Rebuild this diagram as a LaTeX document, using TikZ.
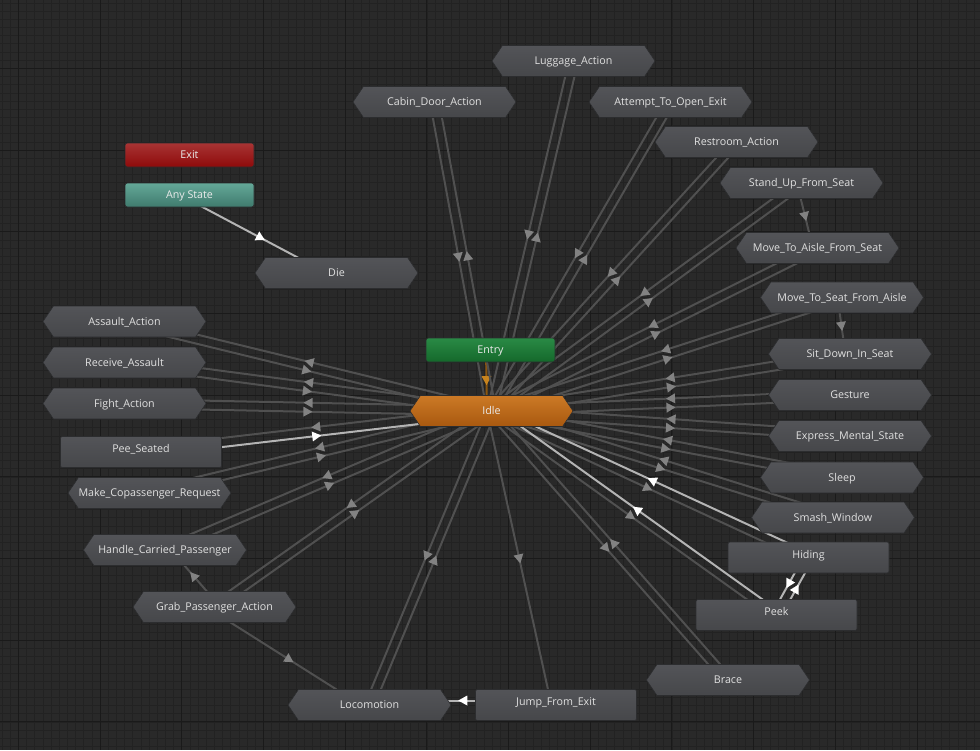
\documentclass[tikz,border=0pt]{standalone}
\usepackage{fontspec}
\setmainfont{Open Sans}
\usetikzlibrary{shapes.symbols,calc,decorations.markings}
\definecolor{animback}{HTML}{292929}
\definecolor{animminor}{HTML}{222222}
\definecolor{animmajor}{HTML}{1A1A1A}
\definecolor{animtop}{HTML}{535458}
\definecolor{animbottom}{HTML}{46474A}
\definecolor{animedge}{HTML}{2C2D2F}
\definecolor{animtext}{HTML}{E0E0E0}
\definecolor{animline}{HTML}{505050}
\definecolor{animarrow}{HTML}{828282}
\definecolor{animlight}{HTML}{B4B4B4}
\definecolor{animorange}{HTML}{8A560F}
\definecolor{animorangetip}{HTML}{C8841E}
\definecolor{exittop}{HTML}{A83434}
\definecolor{exitbottom}{HTML}{8E0A0A}
\definecolor{anytop}{HTML}{64A898}
\definecolor{anybottom}{HTML}{3F7A6D}
\definecolor{entrytop}{HTML}{2A8A45}
\definecolor{entrybottom}{HTML}{14682B}
\definecolor{idletop}{HTML}{CC7A26}
\definecolor{idlebottom}{HTML}{A8580F}

\pgfdeclarelayer{grid}
\pgfdeclarelayer{links}
\pgfsetlayers{grid,links,main}

\tikzset{
  machine/.style={shape=signal, signal to=west and east, signal pointer angle=112,
    minimum width=163pt, minimum height=31pt, inner sep=0pt,
    top color=animtop, bottom color=animbottom, draw=animedge, line width=0.6pt,
    text=animtext, font=\fontsize{10.7}{12}\selectfont, text height=7.5pt, text depth=0pt},
  statebox/.style={rectangle, rounded corners=2pt,
    minimum width=161pt, minimum height=31pt, inner sep=0pt,
    top color=animtop, bottom color=animbottom, draw=animedge, line width=0.6pt,
    text=animtext, font=\fontsize{10.7}{12}\selectfont, text height=7.5pt, text depth=6pt},
  special/.style={rectangle, rounded corners=2.5pt,
    minimum width=129pt, minimum height=24pt, inner sep=0pt, draw=animedge, line width=0.6pt,
    text=white!92!black, font=\fontsize{10.7}{12}\selectfont, text height=7.5pt, text depth=0pt},
  midtip/.style={postaction={decorate}, decoration={markings,
    mark=at position 0.5 with {\fill[#1] (4.5pt,0pt) -- (-4.5pt,5pt) -- (-4.5pt,-5pt) -- cycle;}}},
  graylink/.style={draw=animline, line width=2pt, midtip=animarrow},
  hilink/.style={draw=animlight, line width=2pt, midtip=white},
  entrylink/.style={draw=animorange, line width=2pt, midtip=animorangetip},
  minorgrid/.style={draw=animminor, line width=0.6pt},
  majorgrid/.style={draw=animmajor, line width=1pt}
}

% one transition, shifted to the right of its direction
\newcommand{\animlink}[3][graylink]{%
  \draw[#1] ($(#2.center)!4.5pt!-90:(#3.center)$) -- ($(#3.center)!4.5pt!90:(#2.center)$);}

\begin{document}
\begin{tikzpicture}[x=1pt, y=-1pt]
  \useasboundingbox (0,0) rectangle (980,750);

  \begin{pgfonlayer}{grid}
    \fill[animback] (0,0) rectangle (980,750);
    \foreach \k in {0,...,119} \draw[minorgrid] ({1.96+\k*8.17},0) -- ({1.96+\k*8.17},750);
    \foreach \k in {0,...,91} \draw[minorgrid] (0,{2.94+\k*8.17}) -- (980,{2.94+\k*8.17});
    \foreach \k in {0,...,11} \draw[majorgrid] ({18.3+\k*81.7},0) -- ({18.3+\k*81.7},750);
    \foreach \k in {0,...,8} \draw[majorgrid] (0,{68.3+\k*81.7}) -- (980,{68.3+\k*81.7});
  \end{pgfonlayer}

  % special states
  \node[special, top color=exittop, bottom color=exitbottom] (exit) at (189.5,155) {Exit};
  \node[special, top color=anytop, bottom color=anybottom] (anystate) at (189.5,195) {Any State};
  \node[special, top color=entrytop, bottom color=entrybottom] (entry) at (490.5,350) {Entry};
  \node[machine, top color=idletop, bottom color=idlebottom, text=white!92!black] (idle) at (491.5,411) {Idle};

  % upper and right
  \node[machine] (luggage) at (573.5,61) {Luggage\_Action};
  \node[machine] (cabin) at (434.5,102) {Cabin\_Door\_Action};
  \node[machine] (attempt) at (670.5,102) {Attempt\_To\_Open\_Exit};
  \node[machine] (restroom) at (736.5,142) {Restroom\_Action};
  \node[machine] (standup) at (801.5,183) {Stand\_Up\_From\_Seat};
  \node[machine] (toaisle) at (817.5,248) {Move\_To\_Aisle\_From\_Seat};
  \node[machine] (toseat) at (842,297.5) {Move\_To\_Seat\_From\_Aisle};
  \node[machine] (sitdown) at (850,354) {Sit\_Down\_In\_Seat};
  \node[machine] (gesture) at (850,395) {Gesture};
  \node[machine] (mental) at (850,436) {Express\_Mental\_State};
  \node[machine] (sleep) at (842,477.5) {Sleep};
  \node[machine] (smash) at (833,517.5) {Smash\_Window};
  \node[statebox] (hiding) at (808.5,557.5) {Hiding};
  \node[statebox] (peek) at (776.5,615) {Peek};
  \node[machine] (brace) at (728,680) {Brace};

  % lower and left
  \node[statebox] (jump) at (556,705) {Jump\_From\_Exit};
  \node[machine] (loco) at (369.5,705) {Locomotion};
  \node[machine] (grab) at (214.5,607) {Grab\_Passenger\_Action};
  \node[machine] (handle) at (165,550) {Handle\_Carried\_Passenger};
  \node[machine] (makereq) at (149.5,493) {Make\_Copassenger\_Request};
  \node[statebox] (pee) at (141,452) {Pee\_Seated};
  \node[machine] (fight) at (124.5,403.5) {Fight\_Action};
  \node[machine] (receive) at (124.5,362.5) {Receive\_Assault};
  \node[machine] (assault) at (124.5,321.5) {Assault\_Action};
  \node[machine] (die) at (336.5,273) {Die};

  \begin{pgfonlayer}{links}
    \animlink[entrylink]{entry}{idle}
    \animlink[hilink]{anystate}{die}

    \animlink{idle}{cabin}    \animlink{cabin}{idle}
    \animlink{idle}{luggage}  \animlink{luggage}{idle}
    \animlink{idle}{attempt}  \animlink{attempt}{idle}
    \animlink{idle}{restroom} \animlink{restroom}{idle}
    \animlink{idle}{standup}  \animlink{standup}{idle}
    \animlink{idle}{toaisle}  \animlink{toaisle}{idle}
    \animlink{idle}{toseat}   \animlink{toseat}{idle}
    \animlink{idle}{sitdown}  \animlink{sitdown}{idle}
    \animlink{idle}{gesture}  \animlink{gesture}{idle}
    \animlink{idle}{mental}   \animlink{mental}{idle}
    \animlink{idle}{sleep}    \animlink{sleep}{idle}
    \animlink{idle}{smash}    \animlink{smash}{idle}
    \animlink{idle}{hiding}   \animlink[hilink]{hiding}{idle}
    \animlink{idle}{peek}     \animlink[hilink]{peek}{idle}
    \animlink{idle}{brace}    \animlink{brace}{idle}
    \animlink{idle}{loco}     \animlink{loco}{idle}
    \animlink{idle}{grab}     \animlink{grab}{idle}
    \animlink{idle}{handle}   \animlink{handle}{idle}
    \animlink{idle}{makereq}  \animlink{makereq}{idle}
    \animlink{idle}{pee}      \animlink[hilink]{pee}{idle}
    \animlink{idle}{fight}    \animlink{fight}{idle}
    \animlink{idle}{receive}  \animlink{receive}{idle}
    \animlink{idle}{assault}  \animlink{assault}{idle}
    \animlink{idle}{jump}

    \animlink[hilink]{hiding}{peek} \animlink[hilink]{peek}{hiding}
    \animlink[hilink]{jump}{loco}
    \animlink{grab}{handle}
    \animlink{grab}{loco}
    \animlink{standup}{toaisle}
    \animlink{toseat}{sitdown}
  \end{pgfonlayer}
\end{tikzpicture}
\end{document}
